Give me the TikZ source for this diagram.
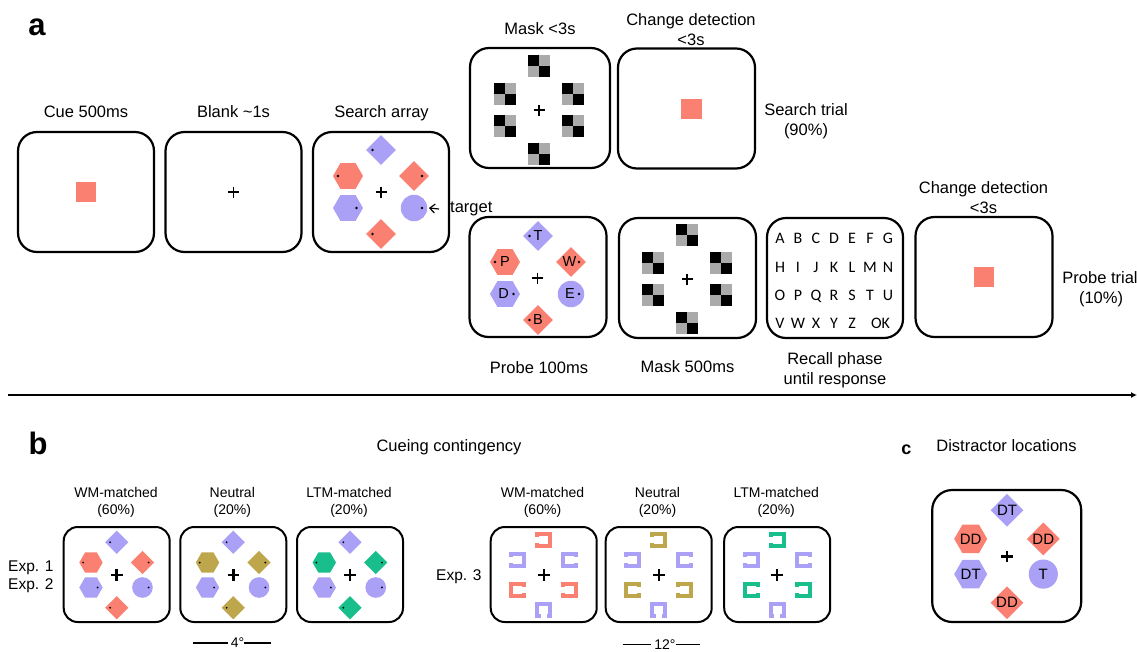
\documentclass[tikz,border=0pt]{standalone}
\usepackage{fontspec}
\setmainfont{Liberation Sans}
\newfontfamily\calib{Carlito}
\usetikzlibrary{shapes.geometric,arrows.meta}
\definecolor{salm}{RGB}{250,128,114}
\definecolor{purp}{RGB}{170,160,245}
\definecolor{oliv}{RGB}{190,166,76}
\definecolor{teal2}{RGB}{24,190,140}
\definecolor{mgray}{RGB}{170,170,170}
\tikzset{
  scr/.style={draw,line width=2.2pt,rounded corners=19pt,minimum width=137pt,minimum height=120pt,inner sep=0pt},
  scrb/.style={draw,line width=2pt,rounded corners=14pt,minimum width=106pt,minimum height=95pt,inner sep=0pt},
  scrc/.style={draw,line width=2.2pt,rounded corners=20pt,minimum width=149pt,minimum height=132pt,inner sep=0pt},
  dia/.style={diamond,inner sep=0pt,minimum width=30pt,minimum height=30pt,aspect=1},
  hexa/.style={regular polygon,regular polygon sides=6,inner sep=0pt,minimum size=30pt},
  disc/.style={circle,inner sep=0pt,minimum size=26.5pt},
  labA/.style={font=\fontsize{16.5}{20}\selectfont,inner sep=0pt,anchor=base},
  labB/.style={font=\fontsize{14}{17}\selectfont,inner sep=0pt,anchor=base},
  labE/.style={font=\fontsize{15.5}{18}\selectfont,inner sep=0pt,anchor=base west},
  plet/.style={font=\fontsize{14.5}{17}\selectfont,inner sep=0pt},
  clet/.style={font=\fontsize{15}{18}\selectfont,inner sep=0pt},
  rec/.style={font=\calib\fontsize{16}{19}\selectfont,inner sep=0pt,anchor=base},
  panel/.style={font=\bfseries\fontsize{31}{36}\selectfont,inner sep=0pt,anchor=base},
  cuesq/.style={fill=salm,minimum size=20.5pt,inner sep=0pt},
}
\newcommand{\stimarr}[5]{%
\begin{scope}[shift={(#1,#2)},scale=#3,transform shape]
\node[dia,fill=purp] (#5-t) at (0,-42) {};
\node[hexa,fill=#4] (#5-ul) at (-33,-16) {};
\node[dia,fill=#4] (#5-ur) at (33,-16) {};
\node[hexa,fill=purp] (#5-ll) at (-33,16) {};
\node[disc,fill=purp] (#5-lr) at (33,16) {};
\node[dia,fill=#4] (#5-b) at (0,42) {};
\end{scope}}
\newcommand{\stimdots}[3]{%
\begin{scope}[shift={(#1,#2)},scale=#3]
\fill (-8.5,-42) circle (1.3) (-43,-16) circle (1.3) (41,-16) circle (1.3)
      (-24.5,16) circle (1.3) (41,16) circle (1.3) (-8.5,42) circle (1.3);
\end{scope}}
\newcommand{\fixc}[4]{\draw[line width=#4] (#1-#3,#2) -- (#1+#3,#2) (#1,#2-#3) -- (#1,#2+#3);}
\newcommand{\mpatch}[2]{%
\fill[black] (#1-11.3,#2-11.3) rectangle (#1,#2);
\fill[mgray] (#1,#2-11.3) rectangle (#1+11.3,#2);
\fill[mgray] (#1-11.3,#2) rectangle (#1,#2+11.3);
\fill[black] (#1,#2) rectangle (#1+11.3,#2+11.3);}
\newcommand{\maskarr}[2]{%
\mpatch{#1}{#2-44}\mpatch{#1-34}{#2-16}\mpatch{#1+34}{#2-16}%
\mpatch{#1-34}{#2+16}\mpatch{#1+34}{#2+16}\mpatch{#1}{#2+44}%
\fixc{#1}{#2}{5.5}{1.8pt}}
\newcommand{\lsqL}[3]{\draw[#3,line width=4pt] (#1-6.4,#2-2.8) -- (#1-6.4,#2-6.4) -- (#1+6.4,#2-6.4) -- (#1+6.4,#2+6.4) -- (#1-6.4,#2+6.4) -- (#1-6.4,#2+2.8);}
\newcommand{\lsqR}[3]{\draw[#3,line width=4pt] (#1+6.4,#2-2.8) -- (#1+6.4,#2-6.4) -- (#1-6.4,#2-6.4) -- (#1-6.4,#2+6.4) -- (#1+6.4,#2+6.4) -- (#1+6.4,#2+2.8);}
\newcommand{\lsqB}[3]{\draw[#3,line width=4pt] (#1-2.8,#2+6.4) -- (#1-6.4,#2+6.4) -- (#1-6.4,#2-6.4) -- (#1+6.4,#2-6.4) -- (#1+6.4,#2+6.4) -- (#1+2.8,#2+6.4);}
\newcommand{\brarr}[3]{%
\lsqL{#1}{#2-35}{#3}\lsqL{#1-26}{#2-15}{purp}\lsqR{#1+26}{#2-15}{purp}%
\lsqR{#1-26}{#2+15}{#3}\lsqL{#1+26}{#2+15}{#3}\lsqB{#1}{#2+35}{purp}%
\fixc{#1}{#2}{5.8}{2.4pt}}
\begin{document}
\begin{tikzpicture}[x=1pt,y=-1pt]
\useasboundingbox (0,0) rectangle (1137,651);
% ---------- panel a ----------
\node[panel] (pa) at (37,35) {a};
% screens
\node[scr,minimum width=136pt] (cue) at (86,192) {};
\node[scr,minimum width=136pt] (blank) at (233.5,192) {};
\node[scr,minimum width=136pt] (search) at (381,192) {};
\node[scr,minimum width=140pt] (mask1) at (540,108) {};
\node[scr] (cd1) at (686.5,108.5) {};
\node[scr] (probe) at (538,277) {};
\node[scr] (mask2) at (687.5,278) {};
\node[scr,minimum width=136pt] (recall) at (835,278) {};
\node[scr] (cd2) at (984,277) {};
% contents
\node[cuesq] (cuesqA) at (cue) {};
\fixc{233.5}{192}{5.5}{1.8pt}
\stimarr{381}{192}{1}{salm}{sa}
\stimdots{381}{192}{1}
\fixc{381}{192}{5.5}{1.8pt}
\maskarr{539}{110}
\node[cuesq] (cuesqB) at (691.5,109) {};
\stimarr{538}{278}{1}{salm}{pr}
\stimdots{538}{278}{1}
\fixc{537.5}{278}{5.5}{1.8pt}
\node[plet] (pl-t) at (pr-t) {T};
\node[plet] (pl-ul) at (pr-ul) {P};
\node[plet] (pl-ur) at ([xshift=-1.5pt]pr-ur.center) {W};
\node[plet] (pl-ll) at ([xshift=-1.5pt]pr-ll.center) {D};
\node[plet] (pl-lr) at ([xshift=-1pt]pr-lr.center) {E};
\node[plet] (pl-b) at (pr-b) {B};
\maskarr{687}{279}
\foreach \l [count=\i from 0] in {A,B,C,D,E,F,G} \node[rec] (ra\l) at (780+18*\i,243.5) {\l};
\foreach \l [count=\i from 0] in {H,I,J,K,L,M,N} \node[rec] (rb\l) at (780+18*\i,272.5) {\l};
\foreach \l [count=\i from 0] in {O,P,Q,R,S,T,U} \node[rec] (rc\l) at (780+18*\i,300) {\l};
\foreach \l [count=\i from 0] in {V,W,X,Y,Z} \node[rec] (rd\l) at (780+18*\i,328.5) {\l};
\node[rec] (rdOK) at (880.5,328.5) {OK};
\node[cuesq] (cuesqC) at (cd2) {};
% labels
\node[labA] (l1) at (86,117.5) {Cue 500ms};
\node[labA] (l2) at (233.5,117.5) {Blank \textasciitilde1s};
\node[labA] (l3) at (381.5,117.5) {Search array};
\node[labA] (l4) at (540,34) {Mask <3s};
\node[labA] (l5) at (691,25) {Change detection};
\node[labA] (l5b) at (691,45) {<3s};
\node[labA] (l6) at (806,115) {Search trial};
\node[labA] (l6b) at (806,135) {(90\%)};
\node[labA] (l7) at (539,373) {Probe 100ms};
\node[labA] (l8) at (687.5,372) {Mask 500ms};
\node[labA] (l9) at (835,364) {Recall phase};
\node[labA] (l9b) at (835,384) {until response};
\node[labA] (l10) at (983.5,193.5) {Change detection};
\node[labA] (l10b) at (983.5,213.3) {<3s};
\node[labA] (l11) at (1100,283.5) {Probe trial};
\node[labA] (l11b) at (1101,303.5) {(10\%)};
\node[labA,anchor=west] (tgt) at (450,209) {target};
\draw[line width=1.2pt,-{Straight Barb[length=5pt,width=9pt]}] ([xshift=-11pt]tgt.west) -- ([xshift=1.5pt]sa-lr.east);
% separator
\coordinate (ls) at (8,395);
\coordinate (le) at (1137,395);
\draw[line width=2pt,-{Latex[length=6pt,width=6pt]}] (ls) -- (le);
% ---------- panel b ----------
\node[panel] (pb) at (38,454) {b};
\node[labA] (cc) at (449,451) {Cueing contingency};
\foreach \nm/\xx/\cl in {b1/116.7/salm,b2/233.3/oliv,b3/350/teal2}{
  \node[scrb] (\nm) at (\xx,574.5) {};
  \stimarr{\xx}{575}{0.78}{\cl}{s\nm}
  \stimdots{\xx}{575}{0.78}
  \fixc{\xx}{575}{5.8}{2.6pt}
}
\foreach \nm/\xx/\cl in {b4/543.7/salm,b5/658.7/oliv,b6/777.2/teal2}{
  \node[scrb] (\nm) at (\xx,574.5) {};
  \brarr{\xx}{575}{\cl}
}
\foreach \xx/\ta/\tb [count=\k] in {116/WM-matched/(60\%),232.3/Neutral/(20\%),349/LTM-matched/(20\%),542.5/WM-matched/(60\%),657.5/Neutral/(20\%),776.2/LTM-matched/(20\%)}{
  \node[labB] (ta\k) at (\xx,497) {\ta};
  \node[labB] (tb\k) at (\xx,514) {\tb};
}
\node[labE] (e1) at (8,571.5) {Exp. 1};
\node[labE] (e2) at (8,589) {Exp. 2};
\node[labE] (e3) at (436,580.5) {Exp. 3};
\node[labB,anchor=center] (deg4) at (237.5,643) {4°};
\coordinate (d4a) at (193,643); \coordinate (d4b) at (271,643);
\draw[line width=1.2pt] (d4a) -- ([xshift=-3pt]deg4.west) (deg4.east) -- (d4b);
\node[labB,anchor=center] (deg12) at (665,644.5) {12°};
\coordinate (d12a) at (622.5,644.5); \coordinate (d12b) at (700,644.5);
\draw[line width=1.2pt] (d12a) -- ([xshift=-3pt]deg12.west) (deg12.east) -- (d12b);
% ---------- panel c ----------
\node[panel,font=\bfseries\fontsize{18}{21}\selectfont] (pc) at (906.3,454) {c};
\node[labA] (dl) at (1006.5,451.7) {Distractor locations};
\node[scrc] (cbox) at (1006.7,556) {};
\stimarr{1007}{556.5}{1.1}{salm}{sc}
\fixc{1007}{556.5}{5.8}{2.4pt}
\node[clet] (cl-t) at (sc-t) {DT};
\node[clet] (cl-ul) at (sc-ul) {DD};
\node[clet] (cl-ur) at (sc-ur) {DD};
\node[clet] (cl-ll) at (sc-ll) {DT};
\node[clet] (cl-lr) at (sc-lr) {T};
\node[clet] (cl-b) at (sc-b) {DD};
\end{tikzpicture}
\end{document}
